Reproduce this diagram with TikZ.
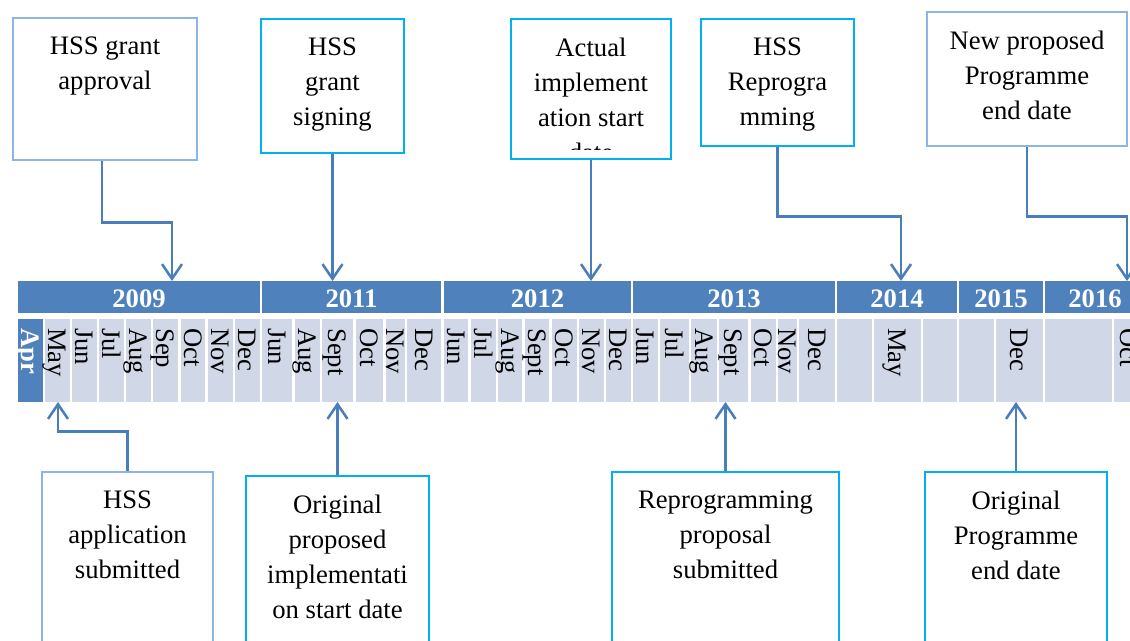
\documentclass[tikz,border=0pt]{standalone}
\usepackage{fontspec}
\setmainfont{Liberation Serif}
\usetikzlibrary{arrows.meta,fit}
\definecolor{bardark}{HTML}{4F81BD}
\definecolor{celllight}{HTML}{D0D8E8}
\definecolor{connc}{HTML}{4A7EBB}
\definecolor{cyanb}{HTML}{00B0F0}
\definecolor{lightb}{HTML}{8EB4E3}
\begin{document}
\begin{tikzpicture}[x=0.75pt,y=-0.75pt,
  boxl/.style={draw=lightb, line width=2.2pt, inner sep=0pt},
  boxc/.style={draw=cyanb, line width=2.2pt, inner sep=0pt},
  btxt/.style={font=\fontsize{20}{26.4}\selectfont, align=center, inner sep=0pt, anchor=north, yshift=-14.8pt},
  conn/.style={draw=connc, line width=1.9pt, -{Straight Barb[length=11pt,width=15pt]}},
  mon/.style={font=\fontsize{20}{26.4}\selectfont, rotate=-90, anchor=west, inner sep=0pt, text height=13.2pt, text depth=0pt},
  monb/.style={mon, font=\fontsize{20}{26.4}\selectfont\bfseries, text=white},
  yseg/.style={fill=bardark, inner sep=0pt},
  yr/.style={font=\fontsize{20}{24}\selectfont\bfseries, text=white, inner sep=0pt},
]
\useasboundingbox (0,0) rectangle (1130,641);
\clip (0,0) rectangle (1130,641);
\fill[white] (0,0) rectangle (1130,641);

% year bar
\foreach \a/\b/\y in {18/260/2009, 262/441/2011, 444/631/2012, 633/835/2013, 837/957/2014, 959/1043/2015, 1045/1145/2016}{
  \node[yseg, fit={(\a,281) (\b,313)}] (yb\y) {};
  \node[yr] (yt\y) at ({(\a+\b)/2},299) {\y};
}

% month row
\fill[bardark] (18,319) rectangle (43,402);
\node[monb] (apr) at (30.5,328) {Apr};
\foreach \a/\b/\m [count=\i] in {45/70/May, 72/97/Jun, 99/124/Jul, 126/151/Aug, 153/178/Sep, 181/205/Oct, 208/233/Nov, 235/260/Dec,
  262/292/Jun, 295/320/Aug, 322/353/Sept, 356/383/Oct, 386/405/Nov, 407/441/Dec,
  444/468/Jun, 471/496/Jul, 498/522/Aug, 525/549/Sept, 552/577/Oct, 579/604/Nov, 606/631/Dec,
  633/658/Jun, 660/689/Jul, 691/717/Aug, 719/748/Sept, 751/776/Oct, 778/797/Nov, 799/835/Dec,
  837/872/{}, 874/921/May, 923/957/{}, 959/994/{}, 996/1043/Dec, 1045/1112/{}, 1114/1145/Oct}{
  \fill[celllight] (\a,319) rectangle (\b,402);
  \node[mon] (m\i) at ({(\a+\b)/2},328) {\m};
}

% top boxes
\node[boxl, fit={(13,18) (197,160)}] (b1) {};
\node[btxt] (b1t) at (b1.north) {HSS grant\\approval};
\node[boxc, fit={(261,19) (404,153)}] (b2) {};
\node[btxt] (b2t) at (b2.north) {HSS\\grant\\signing};
\begin{scope}
  \clip (511,19) rectangle (671,150);
  \node[btxt, yshift=1pt] (b3t) at (591,19) {Actual\\implement\\ation start\\date};
\end{scope}
\node[boxc, fit={(511,19) (671,159)}] (b3) {};
\node[boxc, fit={(701,19) (854,146)}] (b4) {};
\node[btxt] (b4t) at (b4.north) {HSS\\Reprogra\\mming};
\node[boxl, fit={(927,12) (1127,146)}] (b5) {};
\node[btxt] (b5t) at (b5.north) {New proposed\\Programme\\end date};

% bottom boxes
\node[boxl, fit={(42,472) (213,660)}] (b6) {};
\node[btxt] (b6t) at (b6.north) {HSS\\application\\submitted};
\node[boxc, fit={(246,476) (429,660)}] (b7) {};
\node[btxt] (b7t) at (b7.north) {Original\\proposed\\implementati\\on start date};
\node[boxc, fit={(612,472) (839,660)}] (b8) {};
\node[btxt] (b8t) at (b8.north) {Reprogramming\\proposal\\submitted};
\node[boxc, fit={(925,472) (1107,660)}] (b9) {};
\node[btxt] (b9t) at (b9.north) {Original\\Programme\\end date};

% connectors
\coordinate (t1) at (172,281);
\coordinate (t2) at (b2.south |- 0,281);
\coordinate (t3) at (b3.south |- 0,281);
\coordinate (t4) at (901,281);
\coordinate (t5) at (1127,281);
\coordinate (t6) at (58,402);
\coordinate (t7) at (b7.north |- 0,402);
\coordinate (t8) at (b8.north |- 0,402);
\coordinate (t9) at (b9.north |- 0,402);
\draw[conn] ([xshift=-2.4pt]b1.south) -- ++(0,61) -| (t1);
\draw[conn] (b2.south) -- (t2);
\draw[conn] (b3.south) -- (t3);
\draw[conn] (b4.south) -- ++(0,69) -| (t4);
\draw[conn] (b5.south) -- ++(0,69) -| (t5);
\draw[conn] (b6.north) -- ++(0,-39) -| (t6);
\draw[conn] (b7.north) -- (t7);
\draw[conn] (b8.north) -- (t8);
\draw[conn] (b9.north) -- (t9);
\end{tikzpicture}
\end{document}
